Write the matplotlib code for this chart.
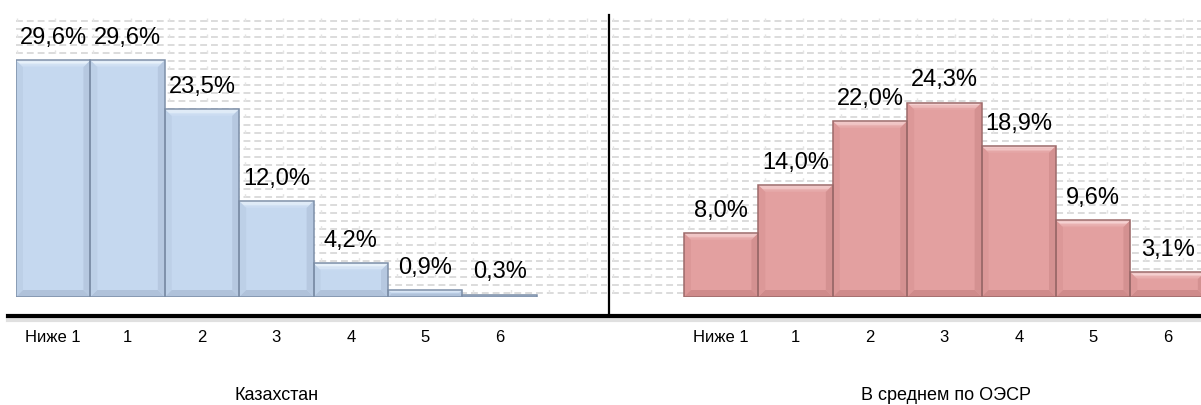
import numpy as np
import matplotlib
matplotlib.use("Agg")
import matplotlib.pyplot as plt
from matplotlib.patches import Polygon
from matplotlib.lines import Line2D
from matplotlib.colors import to_rgb

# ---------------- DATA ----------------

levels = ["Ниже 1", "1", "2", "3", "4", "5", "6"]
kz_values = [29.6, 29.6, 23.5, 12.0, 4.2, 0.9, 0.3]
oecd_values = [8.0, 14.0, 22.0, 24.3, 18.9, 9.6, 3.1]
titles = ["Казахстан", "В среднем по ОЭСР"]

# ---------------- STYLE ----------------

plt.rcParams['font.family'] = ['Liberation Sans Narrow', 'Liberation Sans', 'DejaVu Sans']

W, H = 1201, 405
fig = plt.figure(figsize=(W / 100, H / 100), dpi=100)
fig.patch.set_facecolor('white')

PX_X = 74.4   # pixels per bar unit
PX_Y = 8.0    # pixels per percent
BASE = 297    # baseline pixel row
TOP = 15
BEVEL = 7     # bevel size in pixels


def make_axes(x0, x1, first_edge):
    ax = fig.add_axes([x0 / W, (H - BASE) / H, (x1 - x0) / W, (BASE - TOP) / H])
    left = -0.5 - (first_edge - x0) / PX_X
    ax.set_xlim(left, left + (x1 - x0) / PX_X)
    ax.set_ylim(0, (BASE - TOP) / PX_Y)
    for s in ax.spines.values():
        s.set_visible(False)
    ax.set_yticks([])
    ax.set_facecolor('none')
    return ax


def pattern(ax):
    # light dashed background fill
    x0, x1 = ax.get_xlim()
    y1 = ax.get_ylim()[1]
    ax.hlines(np.arange(0.5, y1, 1.0), x0, x1, colors='#d9d9d9',
              linewidth=1.3, linestyles=(0, (3.8, 2.2)), zorder=0)
    ax.vlines(np.arange(x0 + 0.02, x1, 38 / PX_X), 0.5, y1,
              colors='#e4e4e4', linewidth=1.0, linestyles=(0, (2.5, 9.0)), zorder=0)


def mix(c1, c2, t):
    a, b = np.array(to_rgb(c1)), np.array(to_rgb(c2))
    return tuple(a + (b - a) * t)


def bevel_bars(ax, values, face, light, dark, edge):
    x = np.arange(len(values))
    ax.bar(x, values, width=1.0, color=face, edgecolor='none', zorder=2)
    steps = 5
    for xi, h in zip(x, values):
        l, r = xi - 0.5, xi + 0.5
        by = min(BEVEL / PX_Y, h / 2)
        bx = by * PX_Y / PX_X
        # top highlight, graded from light to face colour
        for k in range(steps):
            t0, t1 = k / steps, (k + 1) / steps
            ax.add_patch(Polygon([(l + bx * t0, h - by * t0), (r - bx * t0, h - by * t0),
                                  (r - bx * t1, h - by * t1), (l + bx * t1, h - by * t1)],
                                 closed=True, facecolor=mix(light, face, t0 + 0.1),
                                 edgecolor='none', zorder=3))
        # bottom bevel
        ax.add_patch(Polygon([(l, 0), (r, 0), (r - bx, by), (l + bx, by)],
                             closed=True, facecolor=dark, edgecolor='none', zorder=3))
        # side bevels
        ax.add_patch(Polygon([(r, 0), (r, h), (r - bx, h - by), (r - bx, by)],
                             closed=True, facecolor=dark, edgecolor='none', alpha=0.7, zorder=3))
        ax.add_patch(Polygon([(l, 0), (l, h), (l + bx, h - by), (l + bx, by)],
                             closed=True, facecolor=dark, edgecolor='none', alpha=0.35, zorder=3))
        ax.add_patch(Polygon([(l, 0), (l, h), (r, h), (r, 0)], closed=True,
                             facecolor='none', edgecolor=edge, linewidth=1.1, zorder=4))
        ax.annotate(f"{h:.1f}%".replace('.', ','), (xi, h), xytext=(0, 8),
                    textcoords='offset points', ha='center', va='bottom',
                    fontsize=17, color='black', zorder=5)
    ax.set_xticks(x)
    ax.set_xticklabels(levels, fontsize=12)
    ax.tick_params(axis='x', length=0, pad=24)


# ---------------- LEFT: KAZAKHSTAN ----------------

ax1 = make_axes(16, 607, 16)
pattern(ax1)
bevel_bars(ax1, kz_values, '#c5d8ef', '#f6fbff', '#b0c2da', '#7d8fa8')

# ---------------- RIGHT: OECD ----------------

ax2 = make_axes(612, 1201, 684)
pattern(ax2)
bevel_bars(ax2, oecd_values, '#e3a0a0', '#fce6e6', '#cf8b8b', '#9c6a6a')

# ---------------- FRAME LINES ----------------

y_line = (H - 316) / H
fig.add_artist(Line2D([8 / W, 1], [y_line - 4 / H, y_line - 4 / H], color='#cccccc',
                      linewidth=3.0, alpha=0.6))
fig.add_artist(Line2D([8 / W, 1], [y_line, y_line], color='black', linewidth=3.0))
fig.add_artist(Line2D([609 / W, 609 / W], [y_line, (H - 15) / H], color='black',
                      linewidth=1.6))

# ---------------- PANEL TITLES ----------------

fig.text(277 / W, (H - 396) / H, titles[0], ha='center', va='center', fontsize=13)
fig.text(946 / W, (H - 396) / H, titles[1], ha='center', va='center', fontsize=13)

fig.savefig("out.png", dpi=100)
